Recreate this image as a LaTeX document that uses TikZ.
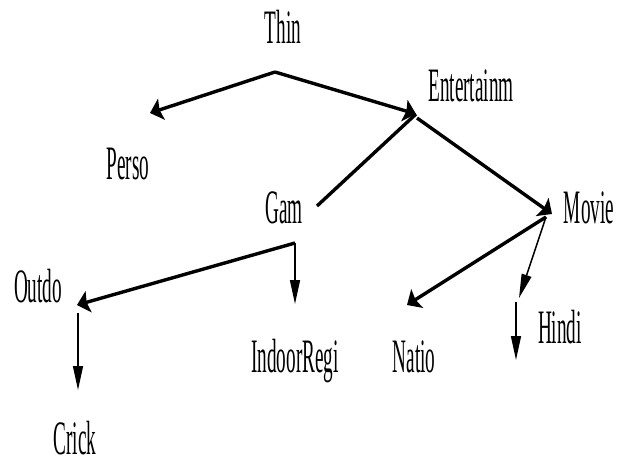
\documentclass[tikz,border=0pt]{standalone}
\usepackage{fontspec}
\setmainfont[FakeStretch=0.40]{Liberation Serif}
\usetikzlibrary{arrows.meta}

\begin{document}
\begin{tikzpicture}[
    x=1pt, y=-1pt,
    word/.style={anchor=base, inner sep=0pt, font=\fontsize{48}{52}\selectfont},
    thickarrow/.style={-{Stealth[length=12pt, width=22pt, inset=2pt]}, line width=3.4pt},
    thinarrow/.style={-{Triangle[length=24pt, width=10pt]}, line width=1.5pt},
    thickline/.style={line width=3.4pt}
]
    \useasboundingbox (0,0) rectangle (625,461);

    % --- Labels ---
    \node[word] (thin) at (283, 43) {Thin};
    \node[word] (perso) at (128, 179) {Perso};
    \node[word] (ent) at (471, 101) {Entertainm};
    \node[word] (gam) at (284, 223) {Gam};
    \node[word] (movie) at (589, 223) {Movie};
    \node[word] (outdo) at (38, 302) {Outdo};
    \node[word] (indoor) at (295, 372) {IndoorRegi};
    \node[word] (natio) at (414, 372) {Natio};
    \node[word] (hindi) at (560, 343) {Hindi};
    \node[word] (crick) at (75, 454) {Crick};

    % --- Branch points ---
    \coordinate (thinfork) at (275, 72);
    \coordinate (persotip) at (150, 113);
    \coordinate (enttip) at (416, 114);
    \coordinate (entfork) at (417, 118);
    \coordinate (gamend) at (317, 206);
    \coordinate (movietip) at (552, 214);
    \coordinate (moviefork) at (546, 217);
    \coordinate (gamfork) at (295, 243);
    \coordinate (outdotip) at (77, 305);
    \coordinate (indoortip) at (295, 304);
    \coordinate (natiotip) at (407, 305);
    \coordinate (hinditip) at (519, 298);
    \coordinate (hindifork) at (516, 302);
    \coordinate (hindiend) at (516, 360);
    \coordinate (outdofork) at (78, 313);
    \coordinate (cricktip) at (78, 390);

    % --- Thin ---
    \draw[thickarrow] (thinfork) -- (persotip);
    \draw[thickarrow] (thinfork) -- (enttip);

    % --- Entertainm ---
    \draw[thickline] (enttip) -- (gamend);
    \draw[thickarrow] (entfork) -- (movietip);

    % --- Gam ---
    \draw[thickarrow] (gamfork) -- (outdotip);
    \draw[thinarrow] (gamfork) -- (indoortip);
    \draw[thinarrow] (outdofork) -- (cricktip);

    % --- Movie ---
    \draw[thickarrow] (moviefork) -- (natiotip);
    \draw[thinarrow] (moviefork) -- (hinditip);
    \draw[thinarrow] (hindifork) -- (hindiend);

\end{tikzpicture}
\end{document}
